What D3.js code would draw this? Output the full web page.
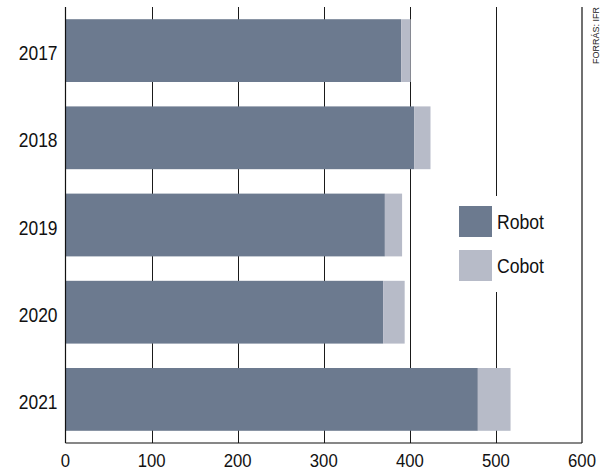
<!DOCTYPE html>
<html>
<head>
<meta charset="utf-8">
<script src="https://cdn.jsdelivr.net/npm/d3@7"></script>
<style>
  html, body { margin: 0; padding: 0; background: #fff; }
  svg { display: block; font-family: "Liberation Sans", Arial, sans-serif; }
</style>
</head>
<body>
<svg id="chart" width="610" height="471"></svg>
<script>
// Industrial robot installations (thousand units), split into classic robots and cobots
const years = ["2017", "2018", "2019", "2020", "2021"];
const robot = [390, 405, 371, 369, 479];
const cobot = [11, 19, 20, 25, 38];
const seriesNames = ["Robot", "Cobot"];
const seriesColors = ["#6c7a8f", "#b7bbc8"];
const xTicks = [0, 100, 200, 300, 400, 500, 600];
const source = "FORRÁS: IFR";

const svg = d3.select("#chart");
const plotLeft = 65.5, plotRight = 582, plotTop = 7, plotBottom = 443;

const x = d3.scaleLinear().domain([0, 600]).range([plotLeft, plotRight]);
const y = d3.scaleBand().domain(years).range([plotTop, plotBottom])
  .paddingInner(0.28).paddingOuter(0.14);

// vertical gridlines behind the bars
svg.append("g")
  .selectAll("line")
  .data(xTicks.filter(d => d > 0 && d < 600))
  .join("line")
  .attr("x1", d => Math.round(x(d)) + 0.5)
  .attr("x2", d => Math.round(x(d)) + 0.5)
  .attr("y1", plotTop).attr("y2", plotBottom)
  .attr("stroke", "#1a1a1a").attr("stroke-width", 1);

// stacked bars
const rows = years.map((yr, i) => ({ year: yr, values: [robot[i], cobot[i]] }));
const stackData = d3.stack().keys([0, 1]).value((d, k) => d.values[k])(rows);

svg.append("g")
  .selectAll("g")
  .data(stackData)
  .join("g")
  .attr("fill", (d, i) => seriesColors[i])
  .selectAll("rect")
  .data(d => d)
  .join("rect")
  .attr("x", d => x(d[0]))
  .attr("width", d => x(d[1]) - x(d[0]))
  .attr("y", d => y(d.data.year))
  .attr("height", y.bandwidth());

// frame: left axis, bottom axis, right border
const frame = svg.append("g").attr("stroke", "#111").attr("stroke-width", 1.2).attr("fill", "none");
frame.append("line").attr("x1", plotLeft).attr("x2", plotLeft).attr("y1", plotTop).attr("y2", plotBottom);
frame.append("line").attr("x1", plotLeft).attr("x2", plotRight).attr("y1", plotBottom).attr("y2", plotBottom);
frame.append("line").attr("x1", plotRight).attr("x2", plotRight).attr("y1", plotTop).attr("y2", plotBottom);

// year labels
svg.append("g")
  .selectAll("text")
  .data(years)
  .join("text")
  .attr("transform", d => `translate(57.5,${y(d) + y.bandwidth() / 2 + 9.5}) scale(0.87,1)`)
  .attr("text-anchor", "end")
  .attr("font-size", 20)
  .attr("fill", "#111")
  .text(d => d);

// value axis labels
svg.append("g")
  .selectAll("text")
  .data(xTicks)
  .join("text")
  .attr("transform", d => `translate(${x(d)},466.7) scale(0.88,1)`)
  .attr("text-anchor", "middle")
  .attr("font-size", 19)
  .attr("fill", "#111")
  .text(d => d);

// legend
const legend = svg.append("g");
legend.append("rect")
  .attr("x", 452).attr("y", 196).attr("width", 104).attr("height", 96)
  .attr("fill", "#fff");
const item = legend.selectAll("g.item")
  .data(seriesNames)
  .join("g")
  .attr("class", "item")
  .attr("transform", (d, i) => `translate(459,${206 + i * 44})`);
item.append("rect")
  .attr("width", 33).attr("height", 31)
  .attr("fill", (d, i) => seriesColors[i]);
item.append("text")
  .attr("transform", "translate(38,23) scale(0.88,1)")
  .attr("font-size", 20)
  .attr("fill", "#111")
  .text(d => d);

// source note
svg.append("text")
  .attr("transform", "translate(598.5,7) rotate(-90)")
  .attr("text-anchor", "end")
  .attr("font-size", 9)
  .attr("fill", "#222")
  .text(source);
</script>
</body>
</html>
